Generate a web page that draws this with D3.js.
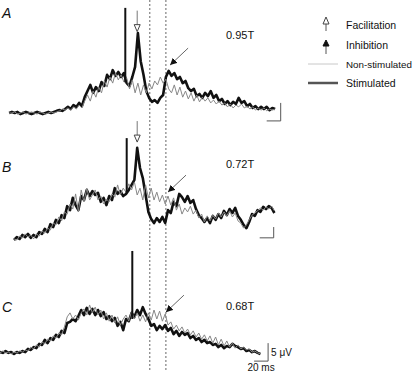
<!DOCTYPE html>
<html><head><meta charset="utf-8">
<script src="https://cdn.jsdelivr.net/npm/d3@7"></script>
<style>body{margin:0;background:#fff}svg{display:block;font-family:"Liberation Sans",Arial,sans-serif}</style>
</head><body><svg id="c" width="416" height="373"></svg>
<script>
// ---- data ----
const panels = ["A", "B", "C"];
const intensities = ["0.95T", "0.72T", "0.68T"];
const startMs = [13, 20, 0];
const stepMs = 4;
// Panel A (μV)
const aStim = [0,0.3,0,0.3,-0.3,0,0.3,0,-0.3,0,0.3,0,-0.3,0,0.3,0,0.3,
0.6,0.8,0.6,1.1,1.7,1.1,2.2,1.7,2.8,1.9,
4.4,6.1,7.8,5.6,7.2,6.1,8.6,7.5,10.6,9.4,
11.9,10.3,11.4,10.0,11.1,8.3,7.5,10.0,12.8,22.2,
14.4,10.6,6.1,4.2,3.1,3.6,2.8,4.2,5.0,10.0,
11.7,10.3,11.1,9.4,10.0,8.3,8.9,6.9,6.1,6.7,
4.7,5.3,4.2,5.6,4.7,6.1,4.2,5.0,3.3,3.9,
2.5,3.3,2.2,3.1,2.5,4.2,2.8,3.3,1.9,2.5,
1.4,1.9,1.1,1.7,1.1,1.7,0.8,1.4,1.1];
const aNon = [0,0,0.3,-0.3,0,0.3,-0.3,0,0.3,0,-0.3,0.3,0,-0.3,0,0.3,0,
0.3,0.6,1.1,0.8,1.4,0.8,1.7,1.1,2.2,1.4,
3.3,5.0,3.3,6.1,4.4,7.2,5.6,8.9,7.2,10.0,
8.3,11.1,9.2,10.6,8.6,9.7,6.7,9.2,5.6,8.3,
5.0,7.8,5.6,8.3,6.7,8.9,7.8,10.0,8.3,9.4,
6.7,5.6,7.8,5.0,7.2,4.4,6.1,3.9,5.6,3.3,
5.0,3.1,4.4,3.3,4.2,2.8,3.6,2.5,3.3,2.2,
2.8,1.7,2.5,1.4,2.2,1.7,2.5,1.4,1.9,1.1,
1.7,0.8,1.4,0.8,1.4,0.6,1.1,0.8,1.1];
// Panel B (μV)
const bStim = [0,0.8,0.3,1.4,0.8,1.7,0.6,1.4,0.8,2.2,
1.7,3.1,2.2,4.4,3.6,5.6,4.7,6.9,6.1,9.4,
8.3,11.7,9.7,8.3,12.2,11.1,13.9,12.2,13.6,12.5,
13.1,10.6,11.7,9.7,12.2,11.1,14.4,12.8,13.6,12.2,
12.8,13.9,15.3,16.7,25.6,20.0,17.2,12.5,7.8,5.8,
4.7,6.1,5.0,6.4,4.7,8.3,7.5,10.6,9.4,12.8,
11.9,10.6,12.2,10.3,11.1,8.6,6.9,6.1,5.0,6.1,
4.7,6.7,5.6,7.2,6.1,8.1,6.9,8.6,7.5,8.9,
6.7,5.6,4.2,3.3,5.0,7.2,6.7,8.3,7.8,9.2,
8.6,9.4,8.9,7.5];
const bNon = [0.3,0,1.1,0.6,1.7,0.8,1.4,0.3,1.7,1.1,
2.5,1.9,3.3,2.8,4.7,4.2,6.4,5.3,7.8,7.2,
10.0,8.6,12.8,7.8,13.9,10.6,14.4,11.1,12.5,13.9,
11.1,12.2,10.0,11.4,10.6,12.8,11.9,15.3,12.5,14.4,
13.3,15.6,13.9,16.1,12.5,14.4,11.1,15.3,11.7,14.4,
11.1,13.3,10.6,12.5,10.0,12.2,9.7,11.7,8.3,10.0,
7.2,8.9,7.8,9.4,7.2,8.3,6.1,7.2,5.0,6.7,
5.3,6.9,5.8,7.5,6.4,7.8,6.7,8.1,6.4,7.5,
5.3,4.7,3.3,4.2,5.6,6.9,7.5,8.1,8.9,8.3,
9.2,8.6,9.4,8.1];
// Panel C (μV)
const cStim = [0.8,0.6,1.1,0.6,0.8,0.3,0.8,0.6,1.1,0.8,
1.7,1.4,2.2,1.9,3.1,2.8,4.2,3.3,4.7,4.2,
5.6,5.0,6.7,6.1,8.9,9.2,10.0,9.4,10.8,12.5,
11.1,13.1,11.4,12.8,11.1,12.5,10.8,11.9,10.0,10.8,
9.4,10.3,8.1,9.2,6.9,10.0,9.4,11.7,10.6,12.5,
11.1,13.3,11.4,10.0,8.1,8.6,6.9,8.1,7.2,8.3,
6.7,7.5,5.8,6.7,5.3,6.4,5.6,6.1,4.7,5.3,
4.2,4.7,3.6,4.2,3.3,3.6,2.8,3.1,2.2,2.8,
1.9,2.5,2.2,3.1,2.5,2.2,1.7,1.9,1.1,1.4,
0.8,1.1,0.6,0.3];
const cNon = [0.6,1.1,0.6,0.8,0.3,0.8,0.6,1.1,0.8,1.4,
1.1,2.2,1.7,2.8,2.2,3.6,3.1,4.4,3.9,5.3,
4.7,6.1,5.6,7.8,10.6,11.7,10.0,11.1,9.7,11.7,
12.8,11.1,13.9,11.7,13.3,11.1,12.5,10.0,11.7,9.4,
11.1,8.9,10.6,8.3,10.0,11.1,9.4,12.2,10.0,11.7,
9.4,11.1,9.2,11.7,9.7,12.5,10.0,12.2,9.4,11.4,
8.3,9.2,7.2,8.3,6.7,7.8,6.1,7.2,5.6,6.7,
5.0,6.1,4.4,5.6,3.9,5.3,3.3,5.0,2.8,4.4,
2.5,3.9,2.2,3.3,1.9,2.8,1.7,2.2,1.4,1.7,
0.8,1.1,0.6,0.3];
const stimTraces = [aStim, bStim, cStim];
const nonTraces = [aNon, bNon, cNon];
const artifactMs = [179, 181, 189];
const artifactPeakUV = [29.2, 28.3, 28.9];
const artifactBaseUV = [8.5, 13, 10];
const windowMs = [214, 237];
const facilitationMs = [196, 196, null];
const facilitationUV = [22.6, 27.2, null];
const inhibitionTipMs = [243, 240, 237];
const inhibitionTipUV = [13.3, 13.3, 11.9];
const legendLabels = ["Facilitation", "Inhibition", "Non-stimulated", "Stimulated"];
const scaleBarMs = 20;
const scaleBarUV = [5, 3, 5];
const scaleBarLabels = ["5 μV", "20 ms"];

// ---- layout ----
const svg = d3.select("#c");
const baselines = [113, 240, 355];
const pxPerUV = 3.6;
const x = d3.scaleLinear().domain([0, 400]).range([0, 280]);
const scaleBarEndMs = [401, 391, 383];
const scaleBarBottomUV = [-2.2, 0.6, -1.7];
const letterY = [18, 172, 312];
const intensityY = [39, 168, 310];

const defs = svg.append("defs");
defs.append("marker").attr("id", "ah").attr("viewBox", "0 0 10 10")
  .attr("refX", 10).attr("refY", 5).attr("markerWidth", 7).attr("markerHeight", 7)
  .attr("markerUnits", "userSpaceOnUse").attr("orient", "auto")
  .append("path").attr("d", "M0,0 L10,5 L0,10 z").attr("fill", "#111");

// dashed window lines
svg.selectAll("line.win").data(windowMs).join("line")
  .attr("x1", d => x(d)).attr("x2", d => x(d))
  .attr("y1", 0).attr("y2", 371)
  .attr("stroke", "#666").attr("stroke-width", 1).attr("stroke-dasharray", "2,2");

panels.forEach((p, k) => {
  const base = baselines[k];
  const y = d3.scaleLinear().domain([0, 10]).range([base, base - 10 * pxPerUV]);
  const line = d3.line().x((d, i) => x(startMs[k] + i * stepMs)).y(d => y(d));
  const g = svg.append("g");
  g.append("path").attr("d", line(stimTraces[k])).attr("fill", "none")
    .attr("stroke", "#111").attr("stroke-width", 2.6).attr("stroke-linejoin", "round");
  g.append("path").attr("d", line(nonTraces[k])).attr("fill", "none")
    .attr("stroke", "#878787").attr("stroke-width", 1).attr("stroke-linejoin", "round");
  g.append("line").attr("x1", x(artifactMs[k])).attr("x2", x(artifactMs[k]))
    .attr("y1", y(artifactBaseUV[k])).attr("y2", y(artifactPeakUV[k]))
    .attr("stroke", "#111").attr("stroke-width", 2);
  g.append("text").attr("x", 2).attr("y", letterY[k]).text(p)
    .attr("font-size", 14).attr("font-style", "italic").attr("fill", "#111");
  g.append("text").attr("x", 226).attr("y", intensityY[k]).text(intensities[k])
    .attr("font-size", 11).attr("fill", "#111");
  if (facilitationMs[k] !== null) {
    const fx = x(facilitationMs[k]), fy = y(facilitationUV[k]);
    g.append("line").attr("x1", fx).attr("x2", fx).attr("y1", fy - 21).attr("y2", fy - 7)
      .attr("stroke", "#777").attr("stroke-width", 1);
    g.append("path").attr("d", `M${fx - 3},${fy - 7} L${fx + 3},${fy - 7} L${fx},${fy} Z`)
      .attr("fill", "#fff").attr("stroke", "#444").attr("stroke-width", 1);
  }
  const ix = x(inhibitionTipMs[k]), iy = y(inhibitionTipUV[k]);
  g.append("line").attr("x1", ix + 18).attr("y1", iy - 17).attr("x2", ix).attr("y2", iy)
    .attr("stroke", "#555").attr("stroke-width", 0.9).attr("marker-end", "url(#ah)");
  const sx = x(scaleBarEndMs[k]), sy = y(scaleBarBottomUV[k]);
  const vLen = scaleBarUV[k] * pxPerUV, hLen = x(scaleBarMs) - x(0);
  g.append("path").attr("d", `M${sx - hLen},${sy} L${sx},${sy} L${sx},${sy - vLen}`)
    .attr("fill", "none").attr("stroke", "#555").attr("stroke-width", 1);
  if (k === 2) {
    g.append("text").attr("x", sx + 3).attr("y", sy - 5).text(scaleBarLabels[0])
      .attr("font-size", 10).attr("fill", "#111");
    g.append("text").attr("x", sx - hLen / 2).attr("y", sy + 10).text(scaleBarLabels[1])
      .attr("font-size", 10).attr("text-anchor", "middle").attr("fill", "#111");
  }
});

// legend
const lg = svg.append("g");
const ly = [29, 49, 68, 87];
const lfs = [10.5, 10.5, 9.8, 10.5];
lg.append("line").attr("x1", 326).attr("x2", 326).attr("y1", 24).attr("y2", 31).attr("stroke", "#555");
lg.append("path").attr("d", "M323,24 L329,24 L326,17 Z").attr("fill", "#fff").attr("stroke", "#444");
lg.append("line").attr("x1", 326).attr("x2", 326).attr("y1", 45).attr("y2", 54).attr("stroke", "#555");
lg.append("path").attr("d", "M323,46 L329,46 L326,40 Z").attr("fill", "#111").attr("stroke", "#111");
lg.append("line").attr("x1", 308).attr("x2", 338).attr("y1", 64).attr("y2", 64)
  .attr("stroke", "#c8c8c8").attr("stroke-width", 1);
lg.append("line").attr("x1", 308).attr("x2", 338).attr("y1", 83).attr("y2", 83)
  .attr("stroke", "#555").attr("stroke-width", 2.5);
lg.selectAll("text").data(legendLabels).join("text")
  .attr("x", 346).attr("y", (d, i) => ly[i]).text(d => d)
  .attr("font-size", (d, i) => lfs[i]).attr("fill", "#111");
</script></body></html>
